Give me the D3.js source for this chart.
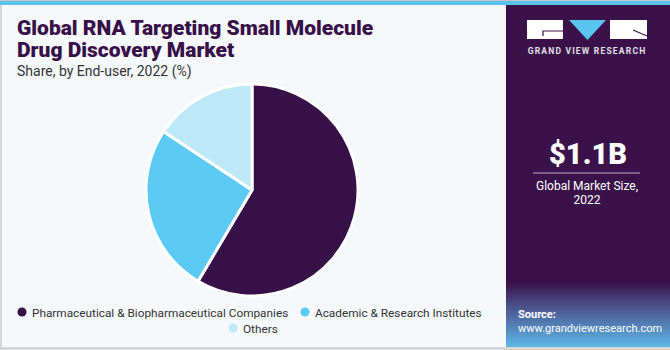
<!DOCTYPE html>
<html>
<head>
<meta charset="utf-8">
<script src="https://cdn.jsdelivr.net/npm/d3@7"></script>
<style>
  body { margin: 0; background: #fff; }
  svg { display: block; }
</style>
</head>
<body>
<svg id="chart" width="670" height="350"></svg>
<script>
const categories = ["Pharmaceutical & Biopharmaceutical Companies", "Academic & Research Institutes", "Others"];
const shares = [58.5, 25.8, 15.7];
const colors = ["#381048", "#5bcbf5", "#bde9f8"];

const svg = d3.select("#chart");
const font = "Roboto, 'Liberation Sans', sans-serif";

// backgrounds
svg.append("rect").attr("width", 670).attr("height", 350).attr("fill", "#f5f9fc");
svg.append("rect").attr("x", 0).attr("y", 0).attr("width", 2).attr("height", 350).attr("fill", "#d6d6d6");
svg.append("rect").attr("x", 0).attr("y", 347).attr("width", 670).attr("height", 3).attr("fill", "#d6d6d6");
svg.append("rect").attr("x", 506).attr("y", 0).attr("width", 164).attr("height", 347).attr("fill", "#3a1249");

let grad = svg.append("defs").append("linearGradient").attr("id", "srcGrad")
  .attr("x1", 0).attr("y1", 0).attr("x2", 0).attr("y2", 1);
grad.append("stop").attr("offset", "0%").attr("stop-color", "#3a1249");
grad.append("stop").attr("offset", "35%").attr("stop-color", "#4a4f8a");
grad.append("stop").attr("offset", "100%").attr("stop-color", "#5fb8e6");
svg.append("rect").attr("x", 506).attr("y", 283).attr("width", 164).attr("height", 64).attr("fill", "url(#srcGrad)");

svg.append("rect").attr("x", 0).attr("y", 0).attr("width", 670).attr("height", 1).attr("fill", "#c8c8c8");
svg.append("rect").attr("x", 0).attr("y", 1).attr("width", 670).attr("height", 4).attr("fill", "#5bc4ee");

// title
svg.append("text").attr("x", 17).attr("y", 35).text("Global RNA Targeting Small Molecule")
  .attr("font-family", font).attr("font-weight", 900).attr("font-size", 21).attr("fill", "#381048");
svg.append("text").attr("x", 17).attr("y", 57).text("Drug Discovery Market")
  .attr("font-family", font).attr("font-weight", 900).attr("font-size", 21).attr("fill", "#381048");
svg.append("text").attr("x", 17).attr("y", 76).text("Share, by End-user, 2022 (%)")
  .attr("font-family", font).attr("font-size", 14).attr("fill", "#333");

// pie
let pie = d3.pie().sort(null).value(d => d)(shares);
let arcMkr = d3.arc().innerRadius(0).outerRadius(106);
let g = svg.append("g").attr("transform", "translate(252, 190)");
g.selectAll("path").data(pie).enter().append("path")
  .attr("d", arcMkr).attr("fill", (d, i) => colors[i])
  .attr("stroke", "#fff").attr("stroke-width", 3).attr("stroke-linejoin", "round");

// legend
let legendPos = [[22, 312], [305, 312], [233, 328]];
let lg = svg.append("g").selectAll("g").data(categories).enter().append("g")
  .attr("transform", (d, i) => `translate(${legendPos[i][0]}, ${legendPos[i][1]})`);
lg.append("circle").attr("r", 4.5).attr("fill", (d, i) => colors[i]);
lg.append("text").attr("x", 10).attr("y", 4.5).text(d => d)
  .attr("font-family", font).attr("font-size", 11.8).attr("fill", "#333");

// logo
let logo = svg.append("g");
logo.append("rect").attr("x", 527).attr("y", 20).attr("width", 36).attr("height", 19).attr("fill", "#fff");
logo.append("path").attr("d", "M543,36 V31 H563").attr("fill", "none").attr("stroke", "#3a1249").attr("stroke-width", 1.2);
logo.append("path").attr("d", "M569,20 H606 L587.5,40 Z").attr("fill", "#5bc4ee");
logo.append("rect").attr("x", 610).attr("y", 20).attr("width", 37).attr("height", 19).attr("fill", "#fff");
logo.append("path").attr("d", "M633,30 L647,36").attr("fill", "none").attr("stroke", "#3a1249").attr("stroke-width", 1.2);
logo.append("text").attr("x", 587).attr("y", 54).attr("text-anchor", "middle").text("GRAND VIEW RESEARCH")
  .attr("font-family", font).attr("font-weight", 700).attr("font-size", 8.5).attr("letter-spacing", 1.2).attr("fill", "#e4e0ea");

// market size
svg.append("text").attr("x", 588).attr("y", 164).attr("text-anchor", "middle").text("$1.1B")
  .attr("font-family", font).attr("font-weight", 900).attr("font-size", 29).attr("fill", "#fff");
svg.append("line").attr("x1", 533).attr("x2", 640).attr("y1", 173).attr("y2", 173).attr("stroke", "#b9a8c6").attr("stroke-width", 1.2);
svg.append("text").attr("x", 587).attr("y", 190).attr("text-anchor", "middle").text("Global Market Size,")
  .attr("font-family", font).attr("font-size", 12).attr("fill", "#fff");
svg.append("text").attr("x", 587).attr("y", 204).attr("text-anchor", "middle").text("2022")
  .attr("font-family", font).attr("font-size", 12).attr("fill", "#fff");

// source
svg.append("text").attr("x", 518).attr("y", 318).text("Source:")
  .attr("font-family", font).attr("font-weight", 700).attr("font-size", 11).attr("fill", "#fff");
svg.append("text").attr("x", 518).attr("y", 332).text("www.grandviewresearch.com")
  .attr("font-family", font).attr("font-size", 11).attr("fill", "#fff");
</script>
</body>
</html>
